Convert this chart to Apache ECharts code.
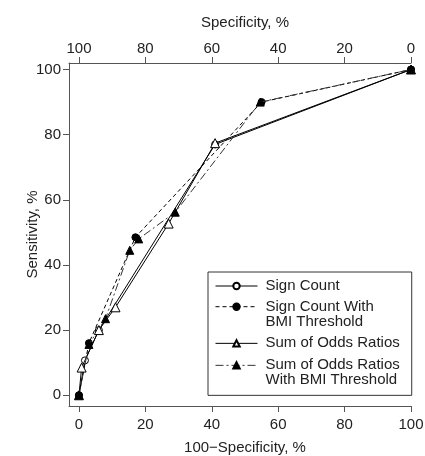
<!DOCTYPE html>
<html>
<head>
<meta charset="utf-8">
<script src="https://cdn.jsdelivr.net/npm/echarts@6/dist/echarts.min.js"></script>
<style>
html,body{margin:0;padding:0;background:#fff;}
#chart{width:425px;height:456px;}
</style>
</head>
<body>
<div id="chart"></div>
<script>
// ---- data ----
const seriesNames = ['Sign Count', 'Sign Count With\nBMI Threshold', 'Sum of Odds Ratios', 'Sum of Odds Ratios\nWith BMI Threshold'];
const signCountX = [0, 1.8, 6, 41, 100];
const signCountY = [0, 10.7, 20, 77, 100];
const signCountBmiX = [0, 3, 17, 55, 100];
const signCountBmiY = [0, 16, 48.5, 90, 100];
const sumOrX = [0, 0.8, 6, 11, 27, 41, 100];
const sumOrY = [0, 8.5, 20, 27, 52.7, 77.4, 100];
const sumOrBmiX = [0, 3, 8, 15.3, 18, 29, 54.6, 100];
const sumOrBmiY = [0, 15.6, 23.5, 44.5, 48, 56.2, 90, 100];
const tickValues = [0, 20, 40, 60, 80, 100];

function pairs(xs, ys) { return xs.map((x, i) => [x, ys[i]]); }

const FONT = 'Liberation Sans';
const axisColor = '#555';
const textColor = '#222';
const labelStyle = { color: textColor, fontSize: 15, fontFamily: FONT };

const chart = echarts.init(document.getElementById('chart'), null, { renderer: 'canvas' });

const commonAxis = {
  type: 'value',
  splitLine: { show: false },
  axisLine: { show: true, onZero: false, lineStyle: { color: axisColor, width: 1 } },
  axisTick: { show: true, length: 6, inside: false, lineStyle: { color: axisColor }, customValues: tickValues },
  nameLocation: 'middle',
  nameMoveOverlap: false,
  nameTextStyle: { color: textColor, fontSize: 15, fontFamily: FONT }
};

// legend text: rich blocks sized so the symbol sits level with the first text line
const legendLabels = {};
legendLabels[seriesNames[0]] = '{a|Sign Count}';
legendLabels[seriesNames[1]] = '{t2| }\n{a|Sign Count With}\n{a|BMI Threshold}\n{b2| }';
legendLabels[seriesNames[2]] = '{c3|Sum of Odds Ratios}';
legendLabels[seriesNames[3]] = '{t4| }\n{a|Sum of Odds Ratios}\n{a|With BMI Threshold}';
const legendFont = { fontSize: 15, fontFamily: FONT, color: textColor };

const option = {
  animation: false,
  backgroundColor: '#fff',
  grid: { left: 69, right: 14, top: 63, bottom: 50, containLabel: false, outerBoundsMode: 'none' },
  xAxis: [
    Object.assign({}, commonAxis, {
      position: 'bottom', min: -3, max: 100,
      name: '100\u2212Specificity, %', nameGap: 34,
      nameTextStyle: Object.assign({}, commonAxis.nameTextStyle, { padding: [0, 0, 0, 10] }),
      axisLabel: Object.assign({}, labelStyle, { margin: 11, customValues: tickValues })
    }),
    Object.assign({}, commonAxis, {
      position: 'top', min: 0, max: 103, inverse: true,
      name: 'Specificity, %', nameGap: 33,
      nameTextStyle: Object.assign({}, commonAxis.nameTextStyle, { padding: [0, 0, 0, 10] }),
      axisLabel: Object.assign({}, labelStyle, { margin: 7, customValues: tickValues })
    })
  ],
  yAxis: [
    Object.assign({}, commonAxis, {
      position: 'left', min: -3.3, max: 102,
      name: 'Sensitivity, %', nameGap: 29,
      axisLabel: Object.assign({}, labelStyle, { margin: 8, customValues: tickValues })
    })
  ],
  legend: {
    orient: 'vertical',
    left: 208, top: 272,
    padding: [-2.1, 12, 7.5, 7],
    itemWidth: 42, itemHeight: 8, itemGap: -23.6,
    backgroundColor: '#fff',
    borderColor: '#333', borderWidth: 1,
    lineStyle: { width: 1 },
    formatter: function (name) { return legendLabels[name]; },
    textStyle: {
      color: textColor, fontSize: 15, lineHeight: 15, fontFamily: FONT, padding: [0, 0, 0, 3],
      rich: {
        a: Object.assign({ lineHeight: 15 }, legendFont),
        t2: Object.assign({ lineHeight: 29.3 }, legendFont),
        b2: Object.assign({ lineHeight: 14.3 }, legendFont),
        c3: Object.assign({ lineHeight: 46.2 }, legendFont),
        t4: Object.assign({ lineHeight: 15 }, legendFont)
      }
    },
    data: seriesNames
  },
  series: [
    {
      name: seriesNames[0], type: 'line', xAxisIndex: 0, yAxisIndex: 0,
      data: pairs(signCountX, signCountY),
      symbol: 'circle', symbolSize: 7, showAllSymbol: true,
      lineStyle: { color: '#000', width: 1, type: 'solid' },
      itemStyle: { color: '#fff', borderColor: '#000', borderWidth: 1 },
      z: 3
    },
    {
      name: seriesNames[1], type: 'line', xAxisIndex: 0, yAxisIndex: 0,
      data: pairs(signCountBmiX, signCountBmiY),
      symbol: 'circle', symbolSize: 7, showAllSymbol: true,
      lineStyle: { color: '#000', width: 1, type: [4, 3] },
      itemStyle: { color: '#000', borderColor: '#000', borderWidth: 1 },
      z: 3
    },
    {
      name: seriesNames[2], type: 'line', xAxisIndex: 0, yAxisIndex: 0,
      data: pairs(sumOrX, sumOrY),
      symbol: 'triangle', symbolSize: 9, showAllSymbol: true,
      lineStyle: { color: '#000', width: 1, type: 'solid' },
      itemStyle: { color: '#fff', borderColor: '#000', borderWidth: 1 },
      z: 4
    },
    {
      name: seriesNames[3], type: 'line', xAxisIndex: 0, yAxisIndex: 0,
      data: pairs(sumOrBmiX, sumOrBmiY),
      symbol: 'triangle', symbolSize: 8, showAllSymbol: true,
      lineStyle: { color: '#333', width: 1, type: [8, 3, 2, 3] },
      itemStyle: { color: '#000', borderColor: '#000', borderWidth: 1 },
      z: 4
    }
  ]
};
chart.setOption(option);
</script>
</body>
</html>
